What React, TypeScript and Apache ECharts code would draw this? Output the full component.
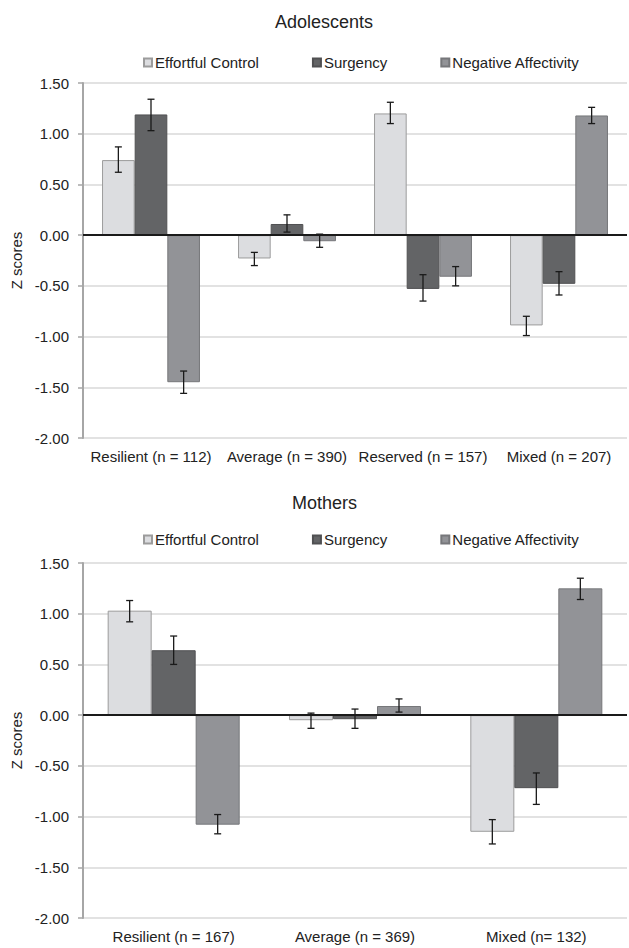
import React, { useEffect, useRef } from "react";
import * as echarts from "echarts";

const seriesNames = ["Effortful Control", "Surgency", "Negative Affectivity"];

const adoCategories = ["Resilient (n = 112)", "Average (n = 390)", "Reserved (n = 157)", "Mixed (n = 207)"];
const adoEC = [0.74, -0.23, 1.2, -0.89];
const adoECLow = [0.62, -0.3, 1.1, -0.99];
const adoECHigh = [0.87, -0.17, 1.31, -0.8];
const adoSurg = [1.19, 0.11, -0.53, -0.48];
const adoSurgLow = [1.03, 0.03, -0.65, -0.59];
const adoSurgHigh = [1.34, 0.2, -0.39, -0.36];
const adoNA = [-1.45, -0.06, -0.41, 1.18];
const adoNALow = [-1.56, -0.12, -0.5, 1.1];
const adoNAHigh = [-1.34, 0.01, -0.31, 1.26];

const momCategories = ["Resilient (n = 167)", "Average (n = 369)", "Mixed (n= 132)"];
const momEC = [1.03, -0.05, -1.15];
const momECLow = [0.92, -0.13, -1.27];
const momECHigh = [1.13, 0.02, -1.03];
const momSurg = [0.64, -0.04, -0.72];
const momSurgLow = [0.5, -0.13, -0.88];
const momSurgHigh = [0.78, 0.06, -0.57];
const momNA = [-1.08, 0.09, 1.25];
const momNALow = [-1.17, 0.03, 1.14];
const momNAHigh = [-0.98, 0.16, 1.35];

const yTicks = { min: -2, max: 1.5, interval: 0.5 };

const fills = ["#dcdde0", "#636466", "#929397"];
const borders = ["#9c9c9c", "#505052", "#76777a"];
const FONT = "'Liberation Sans', Arial, sans-serif";
const TEXT = "#222222";

export default function App() {
  const ref = useRef<HTMLDivElement>(null);

  useEffect(() => {
    if (!ref.current) return;
    const chart = echarts.init(ref.current, null, { renderer: "svg" });

    const gaps = [0.28, 0.272];

    const errSeries = (grid: number, offset: number, lows: number[], highs: number[]) => ({
      type: "custom",
      xAxisIndex: grid,
      yAxisIndex: grid,
      z: 5,
      silent: true,
      encode: { x: 0, y: [1, 2] },
      data: lows.map((l, i) => [i, l, highs[i]]),
      renderItem: (params: any, api: any) => {
        const idx = api.value(0);
        const lo = api.coord([idx, api.value(1)]);
        const hi = api.coord([idx, api.value(2)]);
        const band = api.size([1, 0])[0];
        const bw = (band * (1 - gaps[grid])) / 3;
        const cx = lo[0] + offset * bw;
        const cap = 3.5;
        const style = { stroke: "#1a1a1a", lineWidth: 1.3 };
        return {
          type: "group",
          children: [
            { type: "line", shape: { x1: cx, y1: lo[1], x2: cx, y2: hi[1] }, style },
            { type: "line", shape: { x1: cx - cap, y1: lo[1], x2: cx + cap, y2: lo[1] }, style },
            { type: "line", shape: { x1: cx - cap, y1: hi[1], x2: cx + cap, y2: hi[1] }, style },
          ],
        };
      },
    });

    const barSeries = (grid: number, k: number, data: number[], withZero: boolean) => ({
      type: "bar",
      name: seriesNames[k],
      xAxisIndex: grid,
      yAxisIndex: grid,
      data,
      barGap: "0%",
      barCategoryGap: `${gaps[grid] * 100}%`,
      itemStyle: { color: fills[k], borderColor: borders[k], borderWidth: 1 },
      emphasis: { disabled: true },
      markLine: withZero
        ? {
            silent: true,
            symbol: "none",
            label: { show: false },
            lineStyle: { color: "#1a1a1a", width: 2, type: "solid" },
            data: [{ yAxis: 0 }],
            z: 6,
          }
        : undefined,
    });

    const yAxis = (grid: number) => ({
      type: "value",
      gridIndex: grid,
      min: yTicks.min,
      max: yTicks.max,
      interval: yTicks.interval,
      name: "Z scores",
      nameLocation: "middle",
      nameGap: 58,
      nameTextStyle: { fontSize: 15, color: TEXT, fontFamily: FONT },
      axisLine: { show: true, lineStyle: { color: "#a6a6a6", width: 2 } },
      axisTick: { show: true, length: 5, lineStyle: { color: "#a6a6a6", width: 1.5 } },
      axisLabel: {
        margin: 14,
        fontSize: 15,
        color: TEXT,
        fontFamily: FONT,
        formatter: (v: number) => v.toFixed(2),
      },
      splitLine: { show: true, lineStyle: { color: "#d9d9d9", width: 1.5 } },
    });

    const xAxis = (grid: number, cats: string[]) => ({
      type: "category",
      gridIndex: grid,
      data: cats,
      axisLine: { show: false },
      axisTick: { show: false },
      axisLabel: { interval: 0, margin: 11, fontSize: 15, color: TEXT, fontFamily: FONT },
      splitLine: { show: false },
    });

    const legend = (top: number) => ({
      top,
      left: 138,
      itemWidth: 8,
      itemHeight: 8,
      itemGap: 53,
      icon: "rect",
      selectedMode: false,
      data: seriesNames,
      textStyle: { fontSize: 15, color: TEXT, fontFamily: FONT, padding: [0, 0, 0, -2] },
    });

    chart.setOption({
      animation: false,
      title: [
        { text: "Adolescents", left: 270, top: 8, textStyle: { fontSize: 18, fontWeight: "normal", color: TEXT, fontFamily: FONT } },
        { text: "Mothers", left: 287, top: 489, textStyle: { fontSize: 18, fontWeight: "normal", color: TEXT, fontFamily: FONT } },
      ],
      legend: [legend(50), legend(527)],
      grid: [
        { left: 83, right: 2, top: 83, height: 355 },
        { left: 83, right: 2, top: 563, height: 355 },
      ],
      xAxis: [xAxis(0, adoCategories), xAxis(1, momCategories)],
      yAxis: [yAxis(0), yAxis(1)],
      series: [
        barSeries(0, 0, adoEC, true),
        barSeries(0, 1, adoSurg, false),
        barSeries(0, 2, adoNA, false),
        errSeries(0, -1, adoECLow, adoECHigh),
        errSeries(0, 0, adoSurgLow, adoSurgHigh),
        errSeries(0, 1, adoNALow, adoNAHigh),
        barSeries(1, 0, momEC, true),
        barSeries(1, 1, momSurg, false),
        barSeries(1, 2, momNA, false),
        errSeries(1, -1, momECLow, momECHigh),
        errSeries(1, 0, momSurgLow, momSurgHigh),
        errSeries(1, 1, momNALow, momNAHigh),
      ],
    });

    return () => chart.dispose();
  }, []);

  return (
    <div
      ref={ref}
      style={{ position: "absolute", left: 0, top: 0, width: 629, height: 948, background: "#ffffff" }}
    />
  );
}
